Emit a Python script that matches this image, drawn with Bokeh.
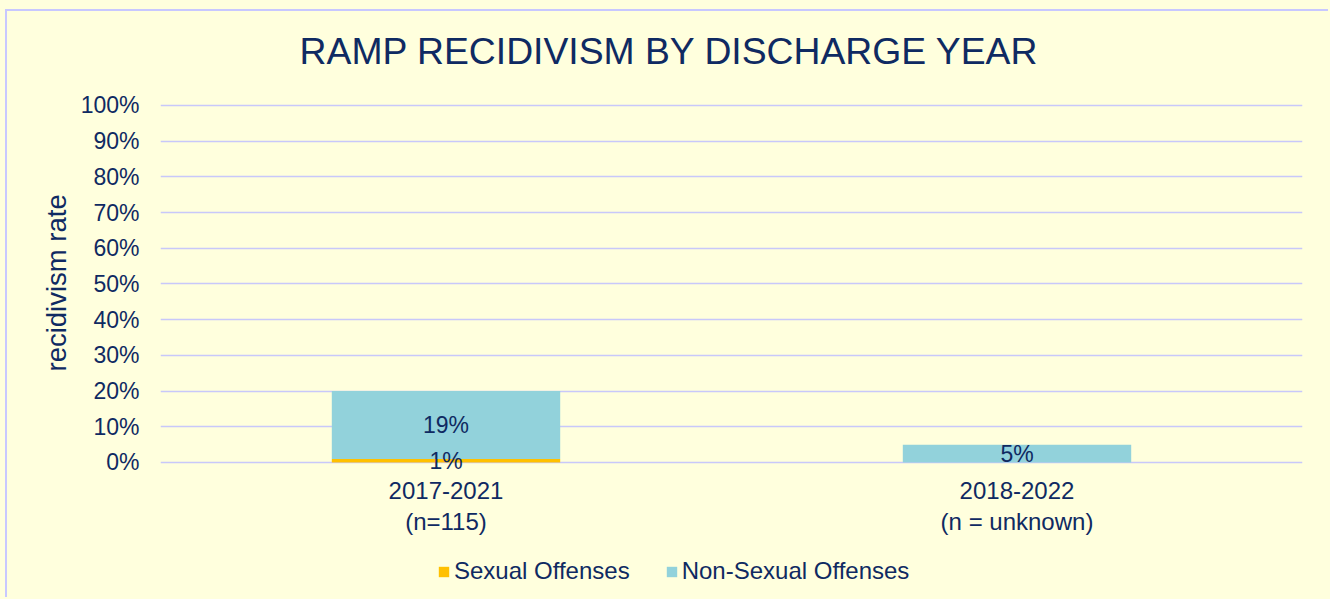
from bokeh.plotting import figure
from bokeh.models import (ColumnDataSource, FactorRange, Range1d, FixedTicker,
                          NumeralTickFormatter, Legend, LegendItem, Title)
from bokeh.core.properties import value
from bokeh.embed import file_html
from bokeh.resources import INLINE

# ---- data ----
title_text = "RAMP RECIDIVISM BY DISCHARGE YEAR"
y_title = "recidivism rate"
categories = ["2017-2021\n(n=115)", "2018-2022\n(n = unknown)"]
series_names = ["Sexual Offenses", "Non-Sexual Offenses"]
sexual = [0.01, 0.0]
non_sexual = [0.19, 0.05]
y_ticks = [0.0, 0.1, 0.2, 0.3, 0.4, 0.5, 0.6, 0.7, 0.8, 0.9, 1.0]

FONT = "Liberation Sans"
TXT = "#0F2A62"
BG = "#FFFFDD"
GRID = "#C8C8FA"
C_SEX = "#FFC000"
C_NON = "#92D2DB"

src = ColumnDataSource(dict(
    cat=categories,
    sex=sexual,
    non=non_sexual,
    sex_y=[s / 2 for s in sexual],
    non_y=[s + n / 2 for s, n in zip(sexual, non_sexual)],
    sex_txt=[f"{round(s*100)}%" if s > 0 else "" for s in sexual],
    non_txt=[f"{round(n*100)}%" if n > 0 else "" for n in non_sexual],
))
# category label row sits below the 0% line
cat_src = ColumnDataSource(dict(cat=categories, y=[-0.1218] * len(categories)))
# chart title row sits above the 100% line
title_src = ColumnDataSource(dict(cat=[categories[0]], y=[1.154], t=[title_text]))

W, H = 1323, 588
p = figure(width=W, height=H, output_backend="svg", toolbar_location=None,
           x_range=FactorRange(factors=categories, range_padding=0),
           y_range=Range1d(-0.3838, 1.2633),
           min_border_left=153, min_border_right=28,
           min_border_top=0, min_border_bottom=0,
           background_fill_color=BG, border_fill_color=BG)
p.styles = {"margin-left": "5px", "margin-top": "9px",
            "border-left": "2px solid #C8C8FF", "border-top": "2px solid #C8C8FF"}
p.outline_line_color = None

renderers = p.vbar_stack(["sex", "non"], x="cat", width=0.4, source=src,
                         color=[C_SEX, C_NON], line_color=None)

p.text(x="cat", y="non_y", text="non_txt", source=src, text_align="center",
       text_baseline="middle", text_font=value(FONT), text_font_size="23px",
       text_color=TXT)
p.text(x="cat", y="sex_y", text="sex_txt", source=src, text_align="center",
       text_baseline="middle", text_font=value(FONT), text_font_size="23px",
       text_color=TXT)
# category (x) labels
p.text(x="cat", y="y", text="cat", source=cat_src, text_align="center",
       text_baseline="middle", text_font=value(FONT), text_font_size="24px",
       text_color=TXT, text_line_height=1.12)
# chart title, centred on the whole chart
p.text(x="cat", y="y", text="t", source=title_src, x_offset=223.5,
       text_align="center", text_baseline="middle", text_font=value(FONT),
       text_font_size="37.3px", text_color=TXT)

# y axis title (side title so it centres on the 0-100% span)
ytitle = Title(text=y_title, align="left", offset=228, standoff=12,
               text_font=FONT, text_font_size="27.5px", text_font_style="normal",
               text_color=TXT)
p.add_layout(ytitle, "left")

# axes
p.xaxis.visible = False
p.yaxis.ticker = FixedTicker(ticks=y_ticks)
p.yaxis.formatter = NumeralTickFormatter(format="0%")
ax = p.yaxis[0]
ax.axis_line_color = None
ax.major_tick_line_color = None
ax.minor_tick_line_color = None
ax.major_label_text_font = FONT
ax.major_label_text_color = TXT
ax.major_label_text_font_size = "23px"
ax.major_label_standoff = 15

p.xgrid.grid_line_color = None
p.ygrid.ticker = FixedTicker(ticks=y_ticks)
p.ygrid.grid_line_color = GRID
p.ygrid.grid_line_width = 1.6

legend = Legend(items=[LegendItem(label=series_names[0], renderers=[renderers[0]]),
                       LegendItem(label=series_names[1], renderers=[renderers[1]])],
                orientation="horizontal", location=(277, 14),
                padding=0, margin=0, spacing=35, label_standoff=4,
                glyph_width=13, glyph_height=13,
                border_line_color=None, background_fill_alpha=0,
                label_text_font=FONT, label_text_font_size="24px",
                label_text_color=TXT)
p.add_layout(legend, "center")

html = file_html(p, INLINE)
html = html.replace("<head>", "<head><style>body{background:%s;}</style>" % BG, 1)
open("out.html", "w").write(html)
